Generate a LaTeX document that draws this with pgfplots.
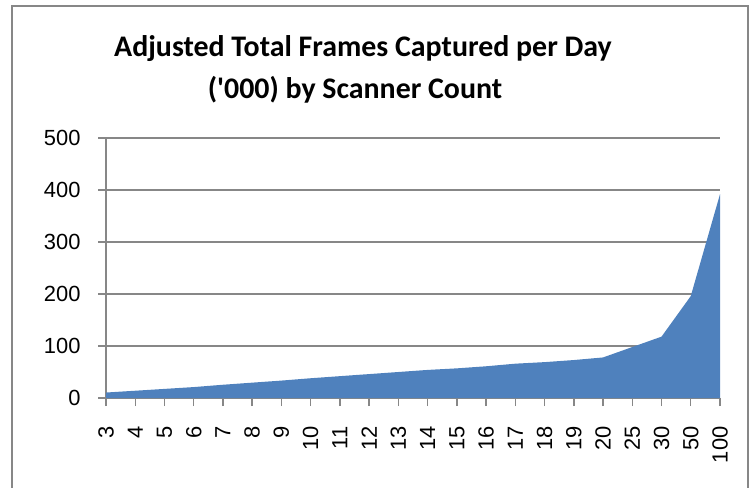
\documentclass[border=0pt]{standalone}
\usepackage{fontspec}
\usepackage{pgfplots}
\pgfplotsset{compat=1.18}
\newfontfamily\tickfont{Liberation Sans}
\newfontfamily\titlefont{Carlito}
\definecolor{areablue}{HTML}{4F81BD}
\definecolor{gridgray}{HTML}{878787}
\begin{document}
\begin{tikzpicture}[x=1bp,y=1bp]
\begin{axis}[
  at={(106bp,90bp)}, anchor=south west,
  scale only axis, width=614bp, height=260bp,
  xmin=0, xmax=21, ymin=0, ymax=500,
  axis lines=left, axis line style={-, gridgray, line width=1.4bp},
  xtick={0,...,21},
  xticklabels={3,4,5,6,7,8,9,10,11,12,13,14,15,16,17,18,19,20,25,30,50,100},
  extra x ticks={0.5,1.5,...,20.5},
  extra x tick labels={},
  extra x tick style={tick align=inside, major tick length=6bp, xmajorgrids=false},
  ytick={0,100,...,500},
  ymajorgrids, major grid style={gridgray, line width=1.4bp},
  tick style={gridgray, line width=1.4bp},
  major tick length=8bp,
  tick align=outside,
  /pgf/number format/assume math mode=true,
  ticklabel style={font=\tickfont\fontsize{22}{24}\selectfont, text=black},
  xticklabel style={rotate=90, anchor=east, xshift=-17bp},
  yticklabel style={anchor=east, xshift=-14bp},
  clip=false,
]
\addplot[fill=areablue, draw=none] coordinates {
(0,10.5) (1,14) (2,17.5) (3,21) (4,25.5) (5,29.5) (6,33.5) (7,38) (8,42) (9,46)
(10,50) (11,54) (12,57) (13,61) (14,66) (15,69) (16,73) (17,78) (18,98) (19,118)
(20,196) (21,392)} \closedcycle;
\end{axis}
\node[font=\titlefont\bfseries\fontsize{30}{36}\selectfont, text=black, anchor=base, inner sep=0pt] at (363bp,431bp)
  {Adjusted Total Frames Captured per Day};
\node[font=\titlefont\bfseries\fontsize{30}{36}\selectfont, text=black, anchor=base, inner sep=0pt] at (355bp,389bp)
  {('000) by Scanner Count};
\draw[gridgray, line width=1.8bp] (12bp,-20bp) rectangle (748bp,482bp);
\pgfresetboundingbox
\useasboundingbox (0,0) rectangle (750bp,488bp);
\end{tikzpicture}
\end{document}
